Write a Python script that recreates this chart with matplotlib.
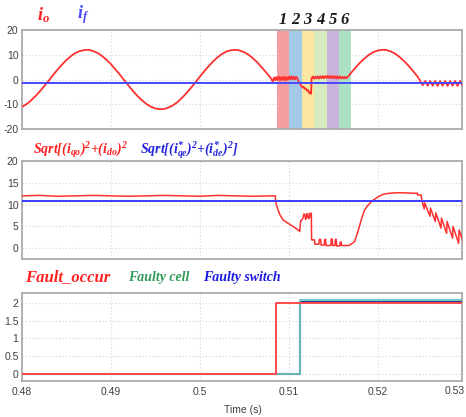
import numpy as np
import matplotlib
matplotlib.use("Agg")
import matplotlib.pyplot as plt
import matplotlib.transforms as mtrans

plt.rcParams["font.family"] = ["Liberation Sans", "DejaVu Sans"]
plt.rcParams["mathtext.fontset"] = "custom"
plt.rcParams["mathtext.rm"] = "Liberation Serif:bold:italic"
plt.rcParams["mathtext.it"] = "Liberation Serif:bold:italic"
plt.rcParams["mathtext.bf"] = "Liberation Serif:bold:italic"

# ---- data ----
# panel 1: output current io (A)
io_wave1_t = np.linspace(0.480, 0.508, 57)
io_wave1_v = [-11.0, -10.0, -8.5, -6.8, -4.8, -2.7, -0.5, 1.8, 4.0, 6.0, 7.9, 9.4,
              10.7, 11.5, 11.9, 12.0, 11.5, 10.7, 9.5, 8.0, 6.2, 4.1, 2.0, -0.3,
              -2.5, -4.7, -6.7, -8.4, -9.9, -11.0, -11.7, -12.0, -11.9, -11.3,
              -10.4, -9.1, -7.4, -5.5, -3.4, -1.2, 1.1, 3.3, 5.4, 7.3, 9.0, 10.3,
              11.3, 11.8, 12.0, 11.7, 11.0, 10.0, 8.5, 6.8, 4.8, 2.7, 0.5]
io_fault_t = [0.50820, 0.50835, 0.50848, 0.50862, 0.50876, 0.50890, 0.50904, 0.50918,
              0.50932, 0.50946, 0.50960, 0.50974, 0.50988, 0.51002, 0.51016, 0.51030,
              0.51044, 0.51058, 0.51072, 0.51086, 0.51100, 0.51114, 0.51128,
              0.51142, 0.51155, 0.51168, 0.51181, 0.51194, 0.51207, 0.51220, 0.51233,
              0.51246, 0.51252, 0.51258,
              0.51272, 0.51286, 0.51300, 0.51314, 0.51328, 0.51342, 0.51356, 0.51370,
              0.51384, 0.51398, 0.51412, 0.51426, 0.51440, 0.51454, 0.51468, 0.51482,
              0.51496, 0.51510, 0.51524, 0.51538, 0.51552, 0.51566, 0.51580, 0.51594,
              0.51608, 0.51622, 0.51636, 0.51650, 0.51664]
io_fault_v = [-0.9, 0.8, -0.3, 1.0, -0.2, 1.1, -0.3, 1.0,
              -0.2, 1.1, -0.3, 1.0, -0.1, 1.2, 0.0, 1.3,
              0.1, 1.2, 0.0, 1.1, 0.3, -1.0, -1.8,
              -2.6, -3.2, -2.9, -3.8, -3.6, -4.5, -4.3, -5.6,
              -5.2, -5.8, 0.5,
              1.2, 0.3, 1.2, 0.4, 1.3, 0.4, 1.3, 0.5,
              1.4, 0.5, 1.4, 0.6, 1.5, 0.6, 1.4, 0.5,
              1.4, 0.5, 1.3, 0.4, 1.3, 0.4, 1.2, 0.4,
              1.1, 0.4, 1.1, 0.5, 1.0]
io_wave2_t = np.linspace(0.5170, 0.5245, 16)
io_wave2_v = [2.6, 4.7, 6.7, 8.4, 9.9, 11.0, 11.7, 12.0, 11.9, 11.3, 10.4, 9.0,
              7.4, 5.5, 3.4, 1.2]
io_tail_t = [0.52480, 0.52508, 0.52536, 0.52564, 0.52592, 0.52620, 0.52648, 0.52676,
             0.52704, 0.52732, 0.52760, 0.52788, 0.52816, 0.52844, 0.52872, 0.52900,
             0.52928, 0.52956]
io_tail_v = [-0.6, -2.3, -0.6, -2.5, -0.6, -2.5, -0.6, -2.6,
             -0.6, -2.5, -0.6, -2.6, -0.6, -2.5, -0.6, -2.6,
             -0.6, -2.5]
if_t = [0.48, 0.5295]
if_v = [-1.3, -1.3]

# fault intervals 1..6
band_edges = [0.50865, 0.51003, 0.51146, 0.51281, 0.51427, 0.51562, 0.51697]
band_labels = ["1", "2", "3", "4", "5", "6"]
band_colors = ["#f5a0a0", "#a3c9e6", "#fce6a0", "#d8ebbf", "#c9b5dc", "#abe1c4"]

# panel 2: current magnitude vs reference
mag_t = [0.480, 0.482, 0.484, 0.486, 0.488, 0.490, 0.492, 0.494, 0.496, 0.498,
         0.500, 0.502, 0.504, 0.506, 0.508, 0.5085,
         0.50855, 0.5088, 0.5090, 0.50936, 0.50992, 0.51048, 0.51104, 0.51124,
         0.51135, 0.5116, 0.5117, 0.5118, 0.5119, 0.5120, 0.51205, 0.51215,
         0.51222, 0.51235, 0.5124, 0.51255,
         0.51258, 0.5129, 0.51295, 0.5134, 0.51345, 0.5136, 0.51365, 0.5140,
         0.51405, 0.51415, 0.5142, 0.51475, 0.5148, 0.5149, 0.51495, 0.5152,
         0.51525, 0.51535, 0.5154, 0.51575, 0.5158, 0.5159, 0.51595, 0.5168,
         0.51742, 0.51779, 0.51817, 0.51854, 0.51899, 0.51944, 0.5200, 0.52056,
         0.5210, 0.5214, 0.5220, 0.5230, 0.5240, 0.52449,
         0.5245, 0.5249, 0.52494, 0.5251, 0.52525, 0.5253, 0.5259, 0.52595,
         0.5265, 0.52655, 0.52714, 0.52719, 0.52777, 0.52782, 0.52844, 0.52849,
         0.52912, 0.52917, 0.5298]
mag_v = [12.0, 12.1, 11.9, 12.0, 12.1, 12.0, 11.9, 12.0, 12.1, 12.0,
         11.9, 12.1, 12.0, 11.9, 12.0, 12.0,
         10.5, 8.8, 7.7, 6.5, 5.7, 5.0, 4.2, 3.8,
         6.2, 6.8, 7.8, 7.8, 6.6, 7.0, 7.9, 7.9,
         6.8, 7.0, 8.0, 8.0,
         1.9, 1.9, 0.9, 0.9, 2.0, 2.0, 0.7, 0.7,
         2.0, 2.0, 0.6, 0.6, 2.1, 2.1, 0.6, 0.6,
         2.0, 2.0, 0.5, 0.5, 1.4, 1.4, 0.6, 0.6,
         1.5, 3.8, 6.5, 8.8, 10.0, 10.9, 11.7, 12.3,
         12.5, 12.6, 12.7, 12.7, 12.6, 12.6,
         12.2, 12.2, 11.5, 10.0, 9.0, 10.4, 7.3, 9.2,
         6.1, 8.1, 4.6, 6.9, 3.4, 6.1, 2.3, 5.0,
         1.1, 4.2, 0.3]
ref_t = [0.48, 0.5295]
ref_v = [10.9, 10.9]

# panel 3: fault flags
occur_t = [0.48, 0.50854, 0.50854, 0.5295]
occur_v = [0, 0, 2.0, 2.0]
cell_t = [0.48, 0.51124, 0.51124, 0.5295]
cell_v = [0, 0, 2.07, 2.07]
switch_t = [0.48, 0.51124, 0.51124, 0.5295]
switch_v = [0, 0, 2.04, 2.04]

x_ticks = [0.48, 0.49, 0.50, 0.51, 0.52]
x_ticklabels = ["0.48", "0.49", "0.5", "0.51", "0.52"]

W, H = 466, 417
fig = plt.figure(figsize=(W / 100, H / 100), dpi=100)


def px(x, y):
    return x / W, 1 - y / H


def make_axes(top, bottom, ylim, yticks, ylabels):
    ax = fig.add_axes([22 / W, 1 - bottom / H, 440 / W, (bottom - top) / H])
    ax.set_xlim(0.48, 0.5295)
    ax.set_ylim(*ylim)
    ax.set_xticks(x_ticks)
    ax.set_yticks(yticks)
    ax.set_yticklabels(ylabels)
    ax.grid(True, linestyle=(0, (1, 2)), color="#d4d4d4", linewidth=0.8)
    ax.tick_params(length=0, labelsize=7.5, colors="#404040", pad=2.5)
    for s in ax.spines.values():
        s.set_color("#ababab")
        s.set_linewidth(1.3)
    ax.set_axisbelow(True)
    return ax


ax1 = make_axes(30, 129, (-20, 20), [-20, -10, 0, 10, 20], ["-20", "-10", "0", "10", "20"])
ax2 = make_axes(161, 259, (-2.5, 20), [0, 5, 10, 15, 20], ["0", "5", "10", "15", "20"])
ax3 = make_axes(293, 381, (-0.2, 2.28), [0, 0.5, 1, 1.5, 2], ["0", "0.5", "1", "1.5", "2"])
ax1.set_xticklabels([])
ax2.set_xticklabels([])
ax3.set_xticklabels(x_ticklabels)
ax3.tick_params(axis="x", pad=4)

# panel 1
for i, lab in enumerate(band_labels):
    ax1.axvspan(band_edges[i], band_edges[i + 1], color=band_colors[i], lw=0, zorder=1)
    ax1.text((band_edges[i] + band_edges[i + 1]) / 2, 1.1, lab,
             transform=mtrans.blended_transform_factory(ax1.transData, ax1.transAxes),
             ha="center", va="center", fontsize=12, color="#1a1a1a",
             family="Liberation Serif", weight="bold", style="italic")
io_t = np.concatenate([io_wave1_t, io_fault_t, io_wave2_t, io_tail_t])
io_v = np.concatenate([io_wave1_v, io_fault_v, io_wave2_v, io_tail_v])
ax1.plot(io_t, io_v, color="#ff3030", lw=1.3, zorder=3)
ax1.plot(if_t, if_v, color="#4848ff", lw=1.4, zorder=4)

# panel 2
ax2.plot(mag_t, mag_v, color="#ff3030", lw=1.1, zorder=3)
ax2.plot(ref_t, ref_v, color="#3a3aff", lw=1.4, zorder=4)

# panel 3
ax3.plot(switch_t, switch_v, color="#2a3aa0", lw=1.5, zorder=3)
ax3.plot(cell_t, cell_v, color="#6cc4b8", lw=1.3, zorder=4)
ax3.plot(occur_t, occur_v, color="#ff4a4a", lw=1.4, zorder=5)
fig.text(*px(465, 391), "0.53", ha="right", va="center", fontsize=7.5, color="#404040")
fig.text(*px(243, 410), "Time (s)", ha="center", va="center", fontsize=7.5, color="#404040")

# trace names
fig.text(*px(37, 15), r"$i_o$", color="#ff2020", fontsize=13, ha="left", va="center")
fig.text(*px(77, 15), r"$i_f$", color="#4a4aff", fontsize=13, ha="left", va="center")
fig.text(*px(33, 150), r"$Sqrt[(i_{qo})^2{+}(i_{do})^2$", color="#ff2020", fontsize=10,
         ha="left", va="center")
fig.text(*px(140, 150), r"$Sqrt[(i_{qe}^{*})^2{+}(i_{de}^{*})^2]$", color="#2424e0",
         fontsize=10, ha="left", va="center")
serif_bi = dict(family="Liberation Serif", weight="bold", style="italic", va="center", ha="left")
fig.text(*px(25, 277), "Fault_occur", color="#ff2020", fontsize=12, **serif_bi)
fig.text(*px(128, 278), "Faulty cell", color="#2e9a55", fontsize=10, **serif_bi)
fig.text(*px(203, 278), "Faulty switch", color="#1a1ae0", fontsize=10, **serif_bi)

fig.savefig("out.png", dpi=100)
